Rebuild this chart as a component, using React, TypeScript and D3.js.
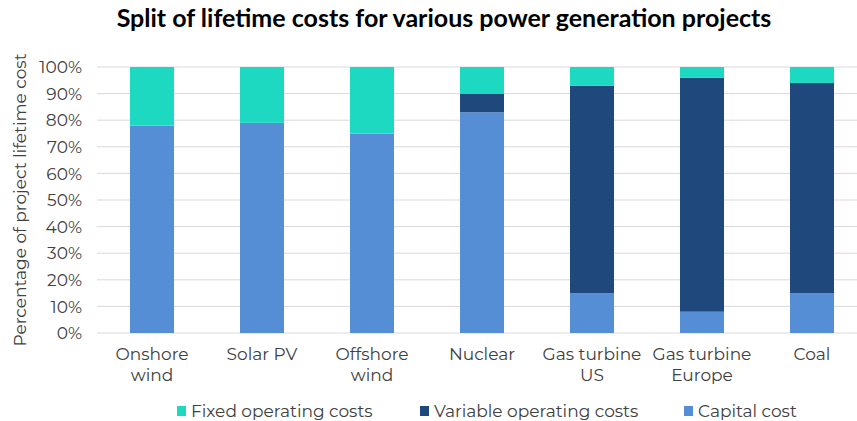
import React from "react";
import * as d3 from "d3";

const categories = [
  ["Onshore", "wind"],
  ["Solar PV"],
  ["Offshore", "wind"],
  ["Nuclear"],
  ["Gas turbine", "US"],
  ["Gas turbine", "Europe"],
  ["Coal"],
];
const capitalCost = [78, 79, 75, 83, 15, 8, 15];
const variableOperating = [0, 0, 0, 7, 78, 88, 79];
const fixedOperating = [22, 21, 25, 10, 7, 4, 6];
const yTicks = [0, 10, 20, 30, 40, 50, 60, 70, 80, 90, 100];

const seriesNames = ["Capital cost", "Variable operating costs", "Fixed operating costs"];
const colors = ["#558ED5", "#1F497D", "#1DD9C1"];
const legendOrder = [2, 1, 0];

const W = 857;
const H = 421;
const FONT = "Montserrat, 'Open Sans', 'Noto Sans', sans-serif";
const FS = 17;

export default function App() {
  const keys = ["cap", "var", "fix"];
  const rows = categories.map((c, i) => ({
    idx: i,
    cap: capitalCost[i],
    var: variableOperating[i],
    fix: fixedOperating[i],
  }));
  const stack = d3.stack<any>().keys(keys)(rows);

  const x = d3
    .scaleBand<number>()
    .domain(categories.map((_, i) => i))
    .range([97, 867])
    .paddingInner(0.6)
    .paddingOuter(0.3);
  const y = d3.scaleLinear().domain([0, 100]).range([333, 67]);

  const legendX = [177, 420, 684];

  return (
    <svg width={W} height={H} style={{ position: "absolute", left: 0, top: 0 }}>
      <rect width={W} height={H} fill="#fff" />
      <text
        x={444}
        y={27}
        textAnchor="middle"
        fontFamily="Lato, 'Open Sans', sans-serif"
        fontWeight="bold"
        fontSize={25}
        fill="#000"
      >
        Split of lifetime costs for various power generation projects
      </text>
      {yTicks.map((t) => (
        <g key={t}>
          <line x1={97} x2={W} y1={y(t)} y2={y(t)} stroke="#D9D9D9" strokeWidth={1} />
          <text
            x={82}
            y={y(t)}
            dy="0.36em"
            textAnchor="end"
            fontFamily={FONT}
            fontSize={FS}
            fill="#404040"
          >
            {t}%
          </text>
        </g>
      ))}
      <text
        transform={`translate(26,${y(50)}) rotate(-90)`}
        textAnchor="middle"
        fontFamily={FONT}
        fontSize={FS}
        fill="#404040"
      >
        Percentage of project lifetime cost
      </text>
      {stack.map((s, si) => (
        <g key={si} fill={colors[si]}>
          {s.map((d: any, i: number) =>
            d[1] - d[0] > 0 ? (
              <rect
                key={i}
                x={x(i)!}
                width={x.bandwidth()}
                y={y(d[1])}
                height={y(d[0]) - y(d[1])}
              />
            ) : null
          )}
        </g>
      ))}
      {categories.map((lines, i) => (
        <text
          key={i}
          textAnchor="middle"
          fontFamily={FONT}
          fontSize={FS}
          fill="#404040"
        >
          {lines.map((l, li) => (
            <tspan key={li} x={x(i)! + x.bandwidth() / 2} y={360 + li * 21}>
              {l}
            </tspan>
          ))}
        </text>
      ))}
      {legendOrder.map((si, k) => (
        <g key={si}>
          <rect x={legendX[k]} y={406} width={9} height={10} fill={colors[si]} />
          <text
            x={legendX[k] + 14}
            y={417}
            fontFamily={FONT}
            fontSize={FS}
            fill="#404040"
          >
            {seriesNames[si]}
          </text>
        </g>
      ))}
    </svg>
  );
}
